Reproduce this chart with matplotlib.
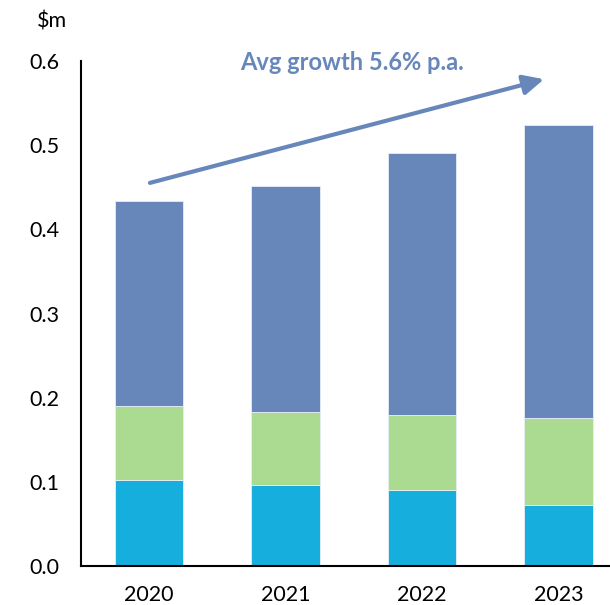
import matplotlib
matplotlib.use("Agg")
import matplotlib.pyplot as plt
import numpy as np

years = ["2020", "2021", "2022", "2023"]
seg_bottom = [0.103, 0.097, 0.090, 0.073]
seg_middle = [0.087, 0.086, 0.090, 0.103]
seg_top = [0.243, 0.268, 0.311, 0.348]
growth_label = "Avg growth 5.6% p.a."

CYAN, GREEN, BLUE = "#16AEDD", "#ABDB91", "#6787BB"

plt.rcParams.update({"font.family": ["Lato", "DejaVu Sans"]})

fig = plt.figure(figsize=(6.1, 6.05), dpi=100, facecolor="white")
ax = fig.add_axes([80.7 / 610, 1 - 566.3 / 605, 1 - 80.7 / 610, (566.3 - 60.7) / 605])

x = np.arange(len(years))
b1 = np.array(seg_bottom)
b2 = b1 + np.array(seg_middle)
kw = dict(width=0.5, edgecolor="#E8EEF6", linewidth=0.6)
ax.bar(x, seg_bottom, color=CYAN, **kw)
ax.bar(x, seg_middle, bottom=b1, color=GREEN, **kw)
ax.bar(x, seg_top, bottom=b2, color=BLUE, **kw)

# growth arrow over the bars
ax.annotate("", xy=(2.894, 0.578), xytext=(0.007, 0.455),
            arrowprops=dict(arrowstyle="-|>,head_length=1.25,head_width=0.6",
                            color=BLUE, lw=3, shrinkA=0, shrinkB=0,
                            mutation_scale=10))
ax.text(1.49, 0.598, growth_label, ha="center", va="center", fontsize=17,
        fontweight="bold", color=BLUE)

ax.set_xlim(-0.5, 3.377)
ax.set_ylim(0, 0.6)
ax.set_yticks(np.arange(0, 0.61, 0.1))
ax.set_yticklabels([f"{v:.1f}" for v in np.arange(0, 0.61, 0.1)])
ax.set_xticks(x)
ax.set_xticklabels(years)
ax.tick_params(axis="both", length=0, labelsize=15.5)
ax.tick_params(axis="y", pad=15)
ax.tick_params(axis="x", pad=13.5)
for s in ["top", "right"]:
    ax.spines[s].set_visible(False)
for s in ["left", "bottom"]:
    ax.spines[s].set_linewidth(1.5)
    ax.spines[s].set_color("black")

fig.text(52 / 610, 1 - 22 / 605, "$m", ha="center", va="center", fontsize=15.5)

fig.savefig("out.png", dpi=100, facecolor="white")
